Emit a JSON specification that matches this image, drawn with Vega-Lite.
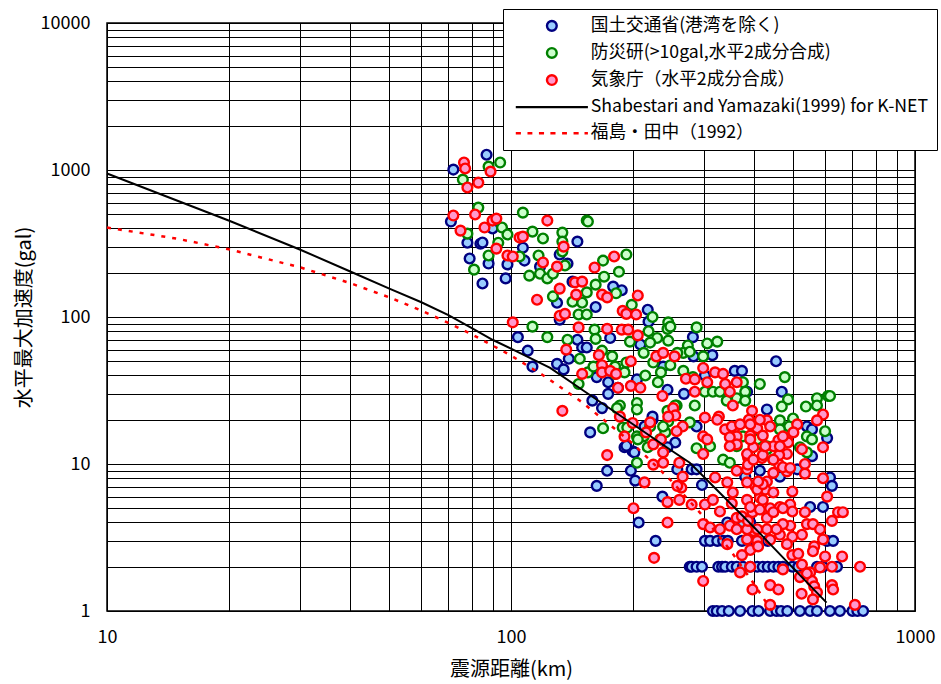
{
"$schema":"https://vega.github.io/schema/vega-lite/v6.json",
"width":808,"height":588,
"autosize":{"type":"none"},
"padding":{"left":107,"top":23,"right":26,"bottom":73},
"background":"white",
"config":{
 "font":"Noto Sans CJK JP",
 "view":{"stroke":"black","strokeWidth":1.5},
 "axis":{"gridColor":"black","gridWidth":1,"gridOpacity":1,"domain":false,"ticks":false,"labelColor":"black","titleColor":"black","labelFontSize":18,"titleFontSize":20,"titleFontWeight":"normal","labelFont":"Noto Sans CJK JP","titleFont":"Noto Sans CJK JP","labelOverlap":false,"labelBound":false,"labelFlush":false},
 "legend":{"orient":"none","legendX":396,"legendY":-14,"fillColor":"white","strokeColor":"black","padding":8,"rowPadding":7.1,"labelFontSize":17.7,"labelFont":"Noto Sans CJK JP","labelColor":"black","symbolSize":95,"symbolStrokeWidth":2.4,"symbolOffset":32,"labelOffset":30,"labelLimit":600,"symbolOpacity":1}
},
"datasets":{
"pts":[
{"s":"B","x":87,"y":1270},{"s":"B","x":72,"y":1007},{"s":"B","x":71,"y":446},{"s":"B","x":78,"y":320},{"s":"B","x":84,"y":315},{"s":"B","x":85,"y":321},{"s":"B","x":79,"y":250},{"s":"B","x":88,"y":231},{"s":"B","x":98,"y":228},{"s":"B","x":107,"y":296},{"s":"B","x":108,"y":242},{"s":"B","x":97,"y":183},{"s":"B","x":85,"y":169},{"s":"B","x":90,"y":400},{"s":"B","x":132,"y":266},{"s":"B","x":138,"y":231},{"s":"B","x":146,"y":326},{"s":"B","x":130,"y":125},{"s":"B","x":132,"y":96},{"s":"B","x":104,"y":73},{"s":"B","x":110,"y":59},{"s":"B","x":113,"y":46},{"s":"B","x":130,"y":48},{"s":"B","x":135,"y":44},{"s":"B","x":139,"y":52},{"s":"B","x":146,"y":70},{"s":"B","x":150,"y":62},{"s":"B","x":154,"y":62},{"s":"B","x":118,"y":220},
{"s":"B","x":179,"y":161},{"s":"B","x":188,"y":152},{"s":"B","x":142,"y":174},{"s":"B","x":162,"y":117},{"s":"B","x":218,"y":112},{"s":"B","x":219,"y":93},{"s":"B","x":176,"y":72},{"s":"B","x":209,"y":65},{"s":"B","x":282,"y":73},{"s":"B","x":283,"y":54},{"s":"B","x":315,"y":55},{"s":"B","x":238,"y":46},{"s":"B","x":205,"y":37.6},{"s":"B","x":244,"y":32},{"s":"B","x":268,"y":30},{"s":"B","x":302,"y":40},{"s":"B","x":358,"y":43},{"s":"B","x":163,"y":39},{"s":"B","x":174,"y":36},{"s":"B","x":174,"y":30},{"s":"B","x":184,"y":33},{"s":"B","x":168,"y":24},{"s":"B","x":159,"y":27},{"s":"B","x":224,"y":20},{"s":"B","x":288,"y":18},{"s":"B","x":255,"y":14},{"s":"B","x":244,"y":13},{"s":"B","x":191,"y":13},{"s":"B","x":200,"y":12.2},{"s":"B","x":214,"y":18},{"s":"B","x":157,"y":16.4},{"s":"B","x":193,"y":13.3},{"s":"B","x":202,"y":12},{"s":"B","x":173,"y":9},{"s":"B","x":198,"y":9},{"s":"B","x":203,"y":7.7},{"s":"B","x":163,"y":7.1},{"s":"B","x":207,"y":4},{"s":"B","x":228,"y":3},{"s":"B","x":277,"y":2},{"s":"B","x":224,"y":21},{"s":"B","x":258,"y":9.2},{"s":"B","x":237,"y":6},{"s":"B","x":280,"y":9.2},{"s":"B","x":288,"y":9.2},{"s":"B","x":297,"y":7.2},
{"s":"B","x":453,"y":50},{"s":"B","x":468,"y":31},{"s":"B","x":430,"y":23.5},{"s":"B","x":540,"y":18},{"s":"B","x":556,"y":17.2},{"s":"B","x":606,"y":15},{"s":"B","x":556,"y":11.3},{"s":"B","x":413,"y":9},{"s":"B","x":511,"y":9.2},{"s":"B","x":463,"y":8.2},{"s":"B","x":380,"y":8.2},{"s":"B","x":616,"y":8.1},{"s":"B","x":623,"y":7.1},{"s":"B","x":373,"y":43},{"s":"B","x":384,"y":31},{"s":"B","x":550,"y":5.1},{"s":"B","x":592,"y":5.1},
{"s":"B","x":316,"y":1},{"s":"B","x":323,"y":1},{"s":"B","x":333,"y":1},{"s":"B","x":346,"y":1},{"s":"B","x":369,"y":1},{"s":"B","x":396,"y":1},{"s":"B","x":410,"y":1},{"s":"B","x":438,"y":1},{"s":"B","x":454,"y":1},{"s":"B","x":466,"y":1},{"s":"B","x":483,"y":1},{"s":"B","x":519,"y":1},{"s":"B","x":550,"y":1},{"s":"B","x":572,"y":1},{"s":"B","x":616,"y":1},{"s":"B","x":652,"y":1},{"s":"B","x":700,"y":1},{"s":"B","x":720,"y":1},{"s":"B","x":744,"y":1},
{"s":"B","x":280,"y":2},{"s":"B","x":288,"y":2},{"s":"B","x":297,"y":2},{"s":"B","x":326,"y":2},{"s":"B","x":333,"y":2},{"s":"B","x":339,"y":2},{"s":"B","x":352,"y":2},{"s":"B","x":362,"y":2},{"s":"B","x":375,"y":2},{"s":"B","x":391,"y":2},{"s":"B","x":407,"y":2},{"s":"B","x":420,"y":2},{"s":"B","x":432,"y":2},{"s":"B","x":446,"y":2},{"s":"B","x":459,"y":2},{"s":"B","x":471,"y":2},{"s":"B","x":497,"y":2},{"s":"B","x":514,"y":2},{"s":"B","x":572,"y":2},{"s":"B","x":592,"y":2},{"s":"B","x":641,"y":2},
{"s":"B","x":302,"y":3},{"s":"B","x":311,"y":3},{"s":"B","x":324,"y":3},{"s":"B","x":335,"y":3},{"s":"B","x":344,"y":3},{"s":"B","x":373,"y":3},{"s":"B","x":391,"y":3},{"s":"B","x":402,"y":3},{"s":"B","x":432,"y":3},{"s":"B","x":606,"y":3},{"s":"B","x":627,"y":3},
{"s":"B","x":343,"y":4},{"s":"B","x":375,"y":4},{"s":"B","x":391,"y":4},
{"s":"G","x":94,"y":1124},{"s":"G","x":88,"y":1055},{"s":"G","x":76,"y":861},{"s":"G","x":83,"y":555},{"s":"G","x":107,"y":513},{"s":"G","x":154,"y":453},{"s":"G","x":78,"y":369},{"s":"G","x":95,"y":406},{"s":"G","x":98,"y":364},{"s":"G","x":93,"y":320},{"s":"G","x":113,"y":381},{"s":"G","x":120,"y":342},{"s":"G","x":134,"y":375},{"s":"G","x":88,"y":262},{"s":"G","x":81,"y":210},{"s":"G","x":117,"y":262},{"s":"G","x":111,"y":191},{"s":"G","x":118,"y":197},{"s":"G","x":123,"y":183},{"s":"G","x":127,"y":197},{"s":"G","x":136,"y":224},{"s":"G","x":134,"y":326},{"s":"G","x":134,"y":279},{"s":"G","x":127,"y":138},{"s":"G","x":142,"y":127},{"s":"G","x":150,"y":125},{"s":"G","x":154,"y":147},{"s":"G","x":147,"y":104},{"s":"G","x":154,"y":104},{"s":"G","x":113,"y":86},{"s":"G","x":123,"y":73},{"s":"G","x":138,"y":70},{"s":"G","x":148,"y":52},{"s":"G","x":155,"y":42},{"s":"G","x":105,"y":258},{"s":"G","x":155,"y":446},
{"s":"G","x":193,"y":266},{"s":"G","x":169,"y":242},{"s":"G","x":185,"y":203},{"s":"G","x":170,"y":188},{"s":"G","x":162,"y":166},{"s":"G","x":182,"y":145},{"s":"G","x":199,"y":121},{"s":"G","x":224,"y":100},{"s":"G","x":245,"y":92},{"s":"G","x":288,"y":85},{"s":"G","x":244,"y":83},{"s":"G","x":219,"y":80},{"s":"G","x":230,"y":72},{"s":"G","x":245,"y":69},{"s":"G","x":324,"y":68},{"s":"G","x":306,"y":66},{"s":"G","x":274,"y":64},{"s":"G","x":197,"y":68},{"s":"G","x":221,"y":67},{"s":"G","x":213,"y":57},{"s":"G","x":267,"y":57},{"s":"G","x":277,"y":58},{"s":"G","x":299,"y":54},{"s":"G","x":161,"y":82},{"s":"G","x":162,"y":71},{"s":"G","x":168,"y":59},{"s":"G","x":178,"y":54},{"s":"G","x":193,"y":49},{"s":"G","x":225,"y":49},{"s":"G","x":235,"y":42},{"s":"G","x":215,"y":40},{"s":"G","x":267,"y":43},{"s":"G","x":231,"y":36},{"s":"G","x":160,"y":46},{"s":"G","x":181,"y":46},{"s":"G","x":181,"y":41},{"s":"G","x":191,"y":42},{"s":"G","x":282,"y":39},{"s":"G","x":302,"y":31},{"s":"G","x":316,"y":31},{"s":"G","x":285,"y":25},{"s":"G","x":186,"y":25},{"s":"G","x":183,"y":24},{"s":"G","x":205,"y":26},{"s":"G","x":205,"y":23.5},{"s":"G","x":257,"y":25},{"s":"G","x":169,"y":17.5},{"s":"G","x":189,"y":17.7},{"s":"G","x":245,"y":19.5},{"s":"G","x":277,"y":19.2},{"s":"G","x":329,"y":31},{"s":"G","x":342,"y":27},{"s":"G","x":362,"y":28},{"s":"G","x":205,"y":15.4},{"s":"G","x":213,"y":15.4},{"s":"G","x":288,"y":12.8},{"s":"G","x":147,"y":35},{"s":"G","x":244,"y":23},{"s":"G","x":255,"y":25},{"s":"G","x":241,"y":16.4},{"s":"G","x":234,"y":14.7},{"s":"G","x":206,"y":14.7},{"s":"G","x":218,"y":13},{"s":"G","x":205,"y":10.2},{"s":"G","x":194,"y":17.7},
{"s":"G","x":413,"y":35},{"s":"G","x":476,"y":39},{"s":"G","x":609,"y":29},{"s":"G","x":572,"y":28},{"s":"G","x":572,"y":25},{"s":"G","x":485,"y":27.5},{"s":"G","x":468,"y":24.6},{"s":"G","x":537,"y":24.6},{"s":"G","x":463,"y":19.8},{"s":"G","x":499,"y":20.4},{"s":"G","x":488,"y":18},{"s":"G","x":599,"y":16.7},{"s":"G","x":540,"y":15.4},{"s":"G","x":556,"y":14.7},{"s":"G","x":519,"y":13},{"s":"G","x":380,"y":31},{"s":"G","x":380,"y":27},{"s":"G","x":375,"y":36},{"s":"G","x":418,"y":13.6},{"s":"G","x":430,"y":13.2},{"s":"G","x":446,"y":10.7},{"s":"G","x":540,"y":12},{"s":"G","x":616,"y":29},{"s":"G","x":311,"y":13.2},{"s":"G","x":335,"y":10.7},{"s":"G","x":348,"y":10.2},{"s":"G","x":362,"y":13.2},{"s":"G","x":375,"y":15.4},{"s":"G","x":407,"y":14.7},{"s":"G","x":430,"y":12.6},{"s":"G","x":463,"y":17.2},{"s":"G","x":221,"y":18},{"s":"G","x":238,"y":18},{"s":"G","x":248,"y":47},{"s":"G","x":258,"y":57},{"s":"G","x":248,"y":86},
{"s":"R","x":76.5,"y":1124},{"s":"R","x":77,"y":1024},{"s":"R","x":89,"y":976},{"s":"R","x":83,"y":821},{"s":"R","x":78,"y":760},{"s":"R","x":72,"y":490},{"s":"R","x":81.5,"y":498},{"s":"R","x":75,"y":387},{"s":"R","x":86,"y":406},{"s":"R","x":90,"y":453},{"s":"R","x":92,"y":467},{"s":"R","x":123,"y":453},{"s":"R","x":105,"y":347},{"s":"R","x":107,"y":352},{"s":"R","x":92,"y":292},{"s":"R","x":98,"y":262},{"s":"R","x":101,"y":258},{"s":"R","x":135,"y":301},{"s":"R","x":120,"y":235},{"s":"R","x":130,"y":220},{"s":"R","x":132,"y":156},{"s":"R","x":144,"y":172},{"s":"R","x":150,"y":174},{"s":"R","x":145,"y":142},{"s":"R","x":116,"y":131},{"s":"R","x":132,"y":102},{"s":"R","x":136,"y":105},{"s":"R","x":101,"y":92},{"s":"R","x":147,"y":85},{"s":"R","x":137,"y":60},{"s":"R","x":150,"y":41},{"s":"R","x":134,"y":23},
{"s":"R","x":180,"y":258},{"s":"R","x":161,"y":217},{"s":"R","x":168,"y":142},{"s":"R","x":173,"y":136},{"s":"R","x":206,"y":140},{"s":"R","x":189,"y":110},{"s":"R","x":193,"y":105},{"s":"R","x":204,"y":104},{"s":"R","x":173,"y":83},{"s":"R","x":188,"y":82},{"s":"R","x":195,"y":82},{"s":"R","x":206,"y":75},{"s":"R","x":165,"y":55},{"s":"R","x":198,"y":50},{"s":"R","x":229,"y":54},{"s":"R","x":238,"y":57},{"s":"R","x":254,"y":54},{"s":"R","x":168,"y":47},{"s":"R","x":168,"y":42},{"s":"R","x":176,"y":43},{"s":"R","x":182,"y":41},{"s":"R","x":184,"y":33},{"s":"R","x":198,"y":34},{"s":"R","x":209,"y":33},{"s":"R","x":237,"y":29},{"s":"R","x":271,"y":38},{"s":"R","x":285,"y":37.6},{"s":"R","x":285,"y":31},{"s":"R","x":306,"y":36},{"s":"R","x":299,"y":45},{"s":"R","x":320,"y":42},{"s":"R","x":335,"y":41},{"s":"R","x":339,"y":35},{"s":"R","x":348,"y":31},{"s":"R","x":354,"y":25},{"s":"R","x":362,"y":36},{"s":"R","x":252,"y":24},{"s":"R","x":255,"y":21.4},{"s":"R","x":245,"y":21},{"s":"R","x":302,"y":20.7},{"s":"R","x":327,"y":21},{"s":"R","x":186,"y":21},{"s":"R","x":200,"y":19},{"s":"R","x":221,"y":19.2},{"s":"R","x":216,"y":16.4},{"s":"R","x":191,"y":15.4},{"s":"R","x":266,"y":18},{"s":"R","x":257,"y":16.7},{"s":"R","x":235,"y":14.7},{"s":"R","x":225,"y":13.6},{"s":"R","x":238,"y":12},{"s":"R","x":299,"y":15.4},{"s":"R","x":306,"y":14.7},{"s":"R","x":339,"y":17.2},{"s":"R","x":358,"y":17.7},{"s":"R","x":362,"y":15.4},{"s":"R","x":348,"y":15.2},{"s":"R","x":299,"y":11.7},{"s":"R","x":173,"y":11.5},{"s":"R","x":362,"y":13.6},{"s":"R","x":225,"y":9.9},{"s":"R","x":238,"y":10.2},{"s":"R","x":261,"y":10.2},{"s":"R","x":214,"y":7.5},{"s":"R","x":266,"y":8.2},{"s":"R","x":264,"y":6.9},{"s":"R","x":258,"y":7.1},{"s":"R","x":244,"y":5.5},{"s":"R","x":261,"y":5.7},{"s":"R","x":201,"y":5},{"s":"R","x":244,"y":4},{"s":"R","x":226,"y":2.3},
{"s":"R","x":395,"y":23},{"s":"R","x":388,"y":20},{"s":"R","x":430,"y":19.8},{"s":"R","x":407,"y":17.5},{"s":"R","x":391,"y":15.6},{"s":"R","x":420,"y":15.6},{"s":"R","x":511,"y":18.6},{"s":"R","x":592,"y":21.7},{"s":"R","x":572,"y":19.8},{"s":"R","x":482,"y":15},{"s":"R","x":459,"y":14.5},{"s":"R","x":446,"y":13.2},{"s":"R","x":398,"y":13},{"s":"R","x":525,"y":12.6},{"s":"R","x":592,"y":13},{"s":"R","x":386,"y":11.1},{"s":"R","x":418,"y":11},{"s":"R","x":482,"y":11.7},{"s":"R","x":461,"y":11.5},{"s":"R","x":461,"y":9.9},{"s":"R","x":534,"y":10},{"s":"R","x":534,"y":8.6},{"s":"R","x":482,"y":8.9},{"s":"R","x":384,"y":9.2},{"s":"R","x":592,"y":8},{"s":"R","x":430,"y":7.6},{"s":"R","x":426,"y":6.7},{"s":"R","x":446,"y":6.4},{"s":"R","x":497,"y":6.5},{"s":"R","x":606,"y":6},{"s":"R","x":402,"y":7.1},{"s":"R","x":413,"y":5.9},{"s":"R","x":384,"y":5.7},{"s":"R","x":491,"y":5.3},{"s":"R","x":463,"y":5.1},
{"s":"R","x":320,"y":8.1},{"s":"R","x":280,"y":5.3},{"s":"R","x":302,"y":5.3},{"s":"R","x":316,"y":5.7},{"s":"R","x":329,"y":4.75},{"s":"R","x":343,"y":7.5},{"s":"R","x":354,"y":6.4},{"s":"R","x":352,"y":5.4},{"s":"R","x":384,"y":11.7},{"s":"R","x":386,"y":9.9},{"s":"R","x":407,"y":6.7},{"s":"R","x":420,"y":7.3},{"s":"R","x":420,"y":5.7},{"s":"R","x":438,"y":5},{"s":"R","x":396,"y":4.7},{"s":"R","x":413,"y":4.9},{"s":"R","x":430,"y":4.3},{"s":"R","x":446,"y":4.7},{"s":"R","x":471,"y":5},{"s":"R","x":497,"y":4.75},{"s":"R","x":534,"y":4.7},{"s":"R","x":430,"y":3.6},{"s":"R","x":362,"y":4.3},{"s":"R","x":348,"y":3.8},{"s":"R","x":329,"y":3.6},{"s":"R","x":299,"y":3.9},{"s":"R","x":311,"y":3.7},{"s":"R","x":398,"y":3.5},{"s":"R","x":407,"y":3},{"s":"R","x":438,"y":3.05},{"s":"R","x":463,"y":3.3},{"s":"R","x":491,"y":3.8},{"s":"R","x":497,"y":3.2},{"s":"R","x":525,"y":3.3},{"s":"R","x":540,"y":3.9},{"s":"R","x":559,"y":3.9},{"s":"R","x":582,"y":3.6},{"s":"R","x":623,"y":4.1},{"s":"R","x":645,"y":4.7},{"s":"R","x":663,"y":4.7},{"s":"R","x":592,"y":3.07},{"s":"R","x":384,"y":3.07},{"s":"R","x":391,"y":2.6},{"s":"R","x":409,"y":2.75},{"s":"R","x":373,"y":2.4},{"s":"R","x":482,"y":2.85},{"s":"R","x":497,"y":2.4},{"s":"R","x":563,"y":2.75},{"s":"R","x":559,"y":2.55},{"s":"R","x":599,"y":2.35},{"s":"R","x":525,"y":2.07},{"s":"R","x":550,"y":1.83},{"s":"R","x":582,"y":1.98},{"s":"R","x":623,"y":2.0},{"s":"R","x":660,"y":2.35},{"s":"R","x":731,"y":2.0},{"s":"R","x":471,"y":1.92},{"s":"R","x":369,"y":1.83},{"s":"R","x":391,"y":2.0},{"s":"R","x":519,"y":1.7},{"s":"R","x":556,"y":1.6},{"s":"R","x":563,"y":1.47},{"s":"R","x":572,"y":1.34},{"s":"R","x":623,"y":1.5},{"s":"R","x":627,"y":1.4},{"s":"R","x":524,"y":1.31},{"s":"R","x":438,"y":1.5},{"s":"R","x":459,"y":1.4},{"s":"R","x":396,"y":1.4},{"s":"R","x":299,"y":1.6},{"s":"R","x":438,"y":1.1},{"s":"R","x":710,"y":1.1},
{"s":"R","x":362,"y":3.6},{"s":"R","x":384,"y":3.6},{"s":"R","x":514,"y":2.45},{"s":"R","x":559,"y":1.2},{"s":"R","x":540,"y":1.8},{"s":"R","x":471,"y":3.9},{"s":"R","x":454,"y":3.6},{"s":"R","x":391,"y":5.1},{"s":"R","x":373,"y":4.4},{"s":"R","x":386,"y":4.1},{"s":"R","x":407,"y":3.6},{"s":"R","x":343,"y":2.85},{"s":"R","x":384,"y":7.5},{"s":"R","x":409,"y":7.6},{"s":"R","x":446,"y":8.7},{"s":"R","x":471,"y":9.5},{"s":"R","x":491,"y":9.4},{"s":"R","x":362,"y":9},{"s":"R","x":398,"y":10.7},{"s":"R","x":420,"y":11.5},{"s":"R","x":446,"y":10.7},{"s":"R","x":485,"y":14},{"s":"R","x":463,"y":13.2},{"s":"R","x":348,"y":13.2},{"s":"R","x":391,"y":14.7},{"s":"R","x":426,"y":13.2},{"s":"R","x":471,"y":15.4},{"s":"R","x":324,"y":20},{"s":"R","x":352,"y":18},{"s":"R","x":369,"y":18.6},{"s":"R","x":391,"y":18.6},{"s":"R","x":413,"y":20},{"s":"R","x":438,"y":18},{"s":"R","x":500,"y":16.4}
],
"sy":[
{"x":10,"y":946},{"x":15,"y":615},{"x":20,"y":453},{"x":30,"y":288},{"x":40,"y":204},{"x":50,"y":156},{"x":60,"y":126},{"x":70,"y":103},{"x":80,"y":84},{"x":90,"y":70},{"x":100,"y":61},{"x":125,"y":45},{"x":150,"y":32},{"x":200,"y":18.7},{"x":250,"y":12.3},{"x":277,"y":10.2},{"x":300,"y":8.2},{"x":400,"y":3.7},{"x":500,"y":1.95},{"x":604,"y":1.14}
],
"ft":[
{"x":10,"y":406},{"x":15,"y":340},{"x":20,"y":289},{"x":30,"y":218},{"x":40,"y":170},{"x":50,"y":136},{"x":60,"y":110.5},{"x":70,"y":91.2},{"x":80,"y":76.2},{"x":100,"y":54.7},{"x":120,"y":40.2},{"x":150,"y":26.3},{"x":200,"y":13.8},{"x":250,"y":7.63},{"x":300,"y":4.36},{"x":350,"y":2.56},{"x":400,"y":1.52},{"x":440,"y":1.02}
]
},
"encoding":{
 "x":{"field":"x","type":"quantitative","scale":{"type":"log","domain":[10,1000],"nice":false,"zero":false},
  "axis":{"values":[10,20,30,40,50,60,70,80,90,100,200,300,400,500,600,700,800,900,1000],"format":"d","labelExpr":"indexof([10,100,1000], datum.value) >= 0 ? datum.label : ''","title":"震源距離(km)","labelPadding":17,"titlePadding":13}},
 "y":{"field":"y","type":"quantitative","scale":{"type":"log","domain":[1,10000],"nice":false,"zero":false},
  "axis":{"values":[1,2,3,4,5,6,7,8,9,10,20,30,40,50,60,70,80,90,100,200,300,400,500,600,700,800,900,1000,2000,3000,4000,5000,6000,7000,8000,9000,10000],"format":"d","labelExpr":"indexof([1,10,100,1000,10000], datum.value) >= 0 ? datum.label : ''","title":"水平最大加速度(gal)","labelPadding":17,"titlePadding":6}}
},
"layer":[
 {"data":{"name":"pts"},
  "mark":{"type":"point","filled":true,"size":95,"strokeWidth":2.4,"opacity":1},
  "encoding":{
   "fill":{"field":"s","type":"nominal","scale":{"domain":["B","G","R","S","F"],"range":["#99CCFF","#CCFFCC","#FF99CC","transparent","transparent"]},
     "legend":{"title":null,"labelExpr":"datum.value == 'B' ? '国土交通省(港湾を除く)' : datum.value == 'G' ? '防災研(>10gal,水平2成分合成)' : datum.value == 'R' ? '気象庁（水平2成分合成）' : datum.value == 'S' ? 'Shabestari and Yamazaki(1999) for K-NET' : '福島・田中（1992）'"}},
   "stroke":{"field":"s","type":"nominal","scale":{"domain":["B","G","R","S","F"],"range":["#000080","#008000","#FF0000","#000000","#FF0000"]},
     "legend":{"title":null,"labelExpr":"datum.value == 'B' ? '国土交通省(港湾を除く)' : datum.value == 'G' ? '防災研(>10gal,水平2成分合成)' : datum.value == 'R' ? '気象庁（水平2成分合成）' : datum.value == 'S' ? 'Shabestari and Yamazaki(1999) for K-NET' : '福島・田中（1992）'"}},
   "shape":{"field":"s","type":"nominal","scale":{"domain":["B","G","R","S","F"],"range":["circle","circle","circle","M-7.4,0H7.4","M-7.4,0H-6.35M-5.0,0H-4.0M-2.65,0H-1.6M-0.3,0H0.75M2.1,0H3.1M4.45,0H5.5M6.7,0H7.4"]},
     "legend":{"title":null,"labelExpr":"datum.value == 'B' ? '国土交通省(港湾を除く)' : datum.value == 'G' ? '防災研(>10gal,水平2成分合成)' : datum.value == 'R' ? '気象庁（水平2成分合成）' : datum.value == 'S' ? 'Shabestari and Yamazaki(1999) for K-NET' : '福島・田中（1992）'"}}
  }},
 {"data":{"name":"sy"},"mark":{"type":"line","color":"black","strokeWidth":2},"encoding":{}},
 {"data":{"name":"ft"},"mark":{"type":"line","color":"#FF0000","strokeWidth":2.5,"strokeDash":[4,7]},"encoding":{}}
]
}
